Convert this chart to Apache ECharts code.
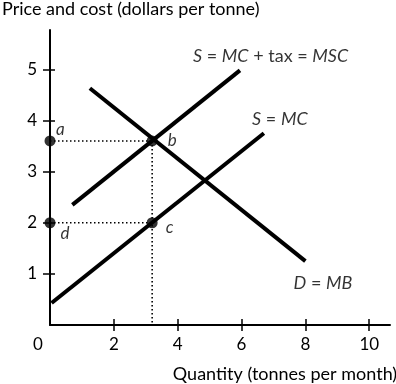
<!DOCTYPE html>
<html><head><meta charset="utf-8">
<script src="https://cdn.jsdelivr.net/npm/echarts@6/dist/echarts.min.js"></script>
<style>html,body{margin:0;padding:0;background:#fff}#c{width:396px;height:384px}</style>
</head><body><div id="c"></div>
<script>
const xTicks = [0, 2, 4, 6, 8, 10];
const yTicks = [1, 2, 3, 4, 5];
const demandLine = [[1.25, 4.63], [8.0, 1.25]];
const mcLine = [[0.05, 0.43], [6.7, 3.75]];
const mscLine = [[0.7, 2.35], [5.95, 4.98]];
const pointNames = ['a', 'b', 'c', 'd'];
const pointX = [0, 3.2, 3.2, 0];
const pointY = [3.6, 3.6, 2.0, 2.0];
const guideLines = [[[0, 3.6], [3.2, 3.6]], [[0, 2.0], [3.2, 2.0]], [[3.2, 3.6], [3.2, 0]]];
const curveLabels = [
  {x: 6.91, y: 5.25, text: '{i|S} = {i|MC} + tax = {i|MSC}'},
  {x: 7.2, y: 4.02, text: '{i|S} = {i|MC}'},
  {x: 8.55, y: 0.81, text: '{i|D} = {i|MB}'}
];
const FONT = 'Lato';
const chart = echarts.init(document.getElementById('c'));
const ptLabelOffset = [[-4.5, -11.5], [5, 0], [3, 5], [0, 11]];
const series = [];
guideLines.forEach(g => series.push({
  type: 'line', data: g, symbol: 'none', silent: true,
  lineStyle: {color: '#000', width: 1.6, type: [1.5, 2.5]}
}));
[demandLine, mcLine, mscLine].forEach(l => series.push({
  type: 'line', data: l, symbol: 'none', silent: true,
  lineStyle: {color: '#000', width: 4}
}));
series.push({
  type: 'scatter', clip: false, symbolSize: 11,
  itemStyle: {color: '#000'},
  data: pointNames.map((n, i) => ({
    value: [pointX[i], pointY[i]], name: n,
    label: {show: true, formatter: n, position: 'right', offset: ptLabelOffset[i],
      color: '#000', fontFamily: FONT, fontSize: 17, fontStyle: 'italic'}
  }))
});
series.push({
  type: 'scatter', clip: false, symbolSize: 0, silent: true,
  data: curveLabels.map(c => ({
    value: [c.x, c.y],
    label: {show: true, position: 'inside', formatter: c.text, color: '#000',
      fontFamily: FONT, fontSize: 18,
      rich: {i: {fontStyle: 'italic', fontFamily: FONT, fontSize: 18, color: '#000'}}}
  }))
});
const tickStyle = {color: '#000', width: 1.5};
chart.setOption({
  animation: false,
  grid: {left: 50, top: 30, right: 6, bottom: 59, outerBoundsMode: 'none', containLabel: false},
  graphic: [{type: 'text', left: 2, top: 0,
    style: {text: 'Price and cost (dollars per tonne)', font: '18px ' + FONT, fill: '#000'}}],
  xAxis: [
    {
      type: 'value', min: 0, max: 10.65, interval: 2,
      splitLine: {show: false},
      axisLine: {show: true, lineStyle: {color: '#000', width: 2}},
      axisTick: {show: true, length: 6, customValues: xTicks.slice(1), lineStyle: tickStyle},
      axisLabel: {color: '#000', fontFamily: FONT, fontSize: 17, margin: 11,
        customValues: xTicks,
        formatter: v => v === 0 ? '{z|0}' : String(v),
        rich: {z: {padding: [0, 24, 0, 0], fontFamily: FONT, fontSize: 17, color: '#000'}}},
      name: 'Quantity (tonnes per month)', nameLocation: 'middle', nameGap: 40,
      nameTextStyle: {color: '#000', fontFamily: FONT, fontSize: 18, padding: [0, 0, 0, 130]}
    },
    {
      type: 'value', min: 0, max: 10.65, interval: 2, position: 'bottom',
      splitLine: {show: false},
      axisLine: {show: false},
      axisTick: {show: true, inside: true, length: 6, customValues: xTicks.slice(1), lineStyle: tickStyle},
      axisLabel: {show: false}
    }
  ],
  yAxis: [
    {
      type: 'value', min: 0, max: 5.77, interval: 1,
      splitLine: {show: false},
      axisLine: {show: true, lineStyle: {color: '#000', width: 2}},
      axisTick: {show: true, length: 7, customValues: yTicks, lineStyle: tickStyle},
      axisLabel: {color: '#000', fontFamily: FONT, fontSize: 17, margin: 13,
        customValues: yTicks, formatter: v => String(v)}
    },
    {
      type: 'value', min: 0, max: 5.77, interval: 1, position: 'left',
      splitLine: {show: false},
      axisLine: {show: false},
      axisTick: {show: true, inside: true, length: 5, customValues: yTicks, lineStyle: tickStyle},
      axisLabel: {show: false}
    }
  ],
  series: series
});
</script></body></html>
